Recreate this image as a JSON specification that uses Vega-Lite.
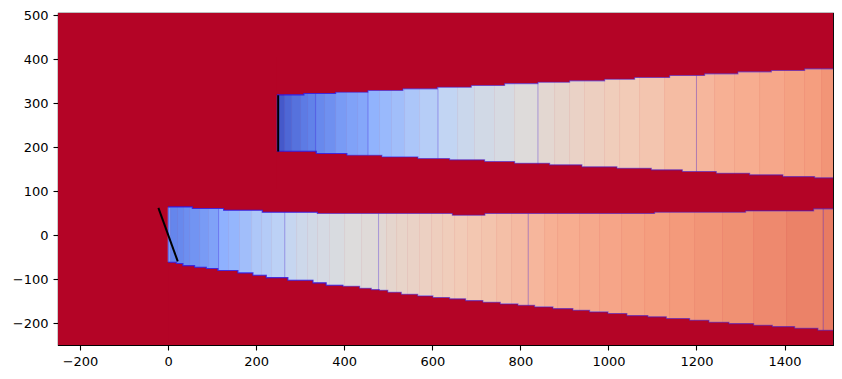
{"$schema":"https://vega.github.io/schema/vega-lite/v6.json","width":775,"height":332,"autosize":{"type":"none"},"padding":{"left":58,"top":13,"right":9,"bottom":34},"background":"white","config":{"view":{"stroke":"#000","strokeWidth":1.1},"axis":{"labelFont":"DejaVu Sans","labelFontSize":13,"labelColor":"#000","tickColor":"#000","domainColor":"#000","tickSize":5,"tickWidth":1.1,"domainWidth":1.1,"grid":false,"title":null,"labelPadding":5}},
"datasets":{
"field":[{"x":-250,"x2":1510,"lo":-250,"hi":505,"t":1}],
"bands":[
{"x":0,"x2":5.7,"lo":-61,"hi":63,"t":0.2},{"x":5.7,"x2":21.6,"lo":-235,"hi":70,"t":0.13},{"x":21.6,"x2":35.2,"lo":-235,"hi":70,"t":0.14},{"x":35.2,"x2":48.8,"lo":-235,"hi":70,"t":0.155},{"x":48.8,"x2":71.5,"lo":-235,"hi":70,"t":0.17},{"x":71.5,"x2":92,"lo":-235,"hi":70,"t":0.19},{"x":92,"x2":114.7,"lo":-235,"hi":70,"t":0.21},{"x":114.7,"x2":137.4,"lo":-235,"hi":70,"t":0.255},{"x":137.4,"x2":162.4,"lo":-235,"hi":70,"t":0.27},{"x":162.4,"x2":189.6,"lo":-235,"hi":70,"t":0.3},{"x":189.6,"x2":212.4,"lo":-235,"hi":70,"t":0.33},{"x":212.4,"x2":235.1,"lo":-235,"hi":70,"t":0.345},{"x":235.1,"x2":263.5,"lo":-235,"hi":70,"t":0.365},{"x":263.5,"x2":291.8,"lo":-235,"hi":70,"t":0.4},{"x":291.8,"x2":316.8,"lo":-235,"hi":70,"t":0.43},{"x":316.8,"x2":339.5,"lo":-235,"hi":70,"t":0.45},{"x":339.5,"x2":366.8,"lo":-235,"hi":70,"t":0.465},{"x":366.8,"x2":400.9,"lo":-235,"hi":70,"t":0.48},{"x":400.9,"x2":439.5,"lo":-235,"hi":70,"t":0.5},{"x":439.5,"x2":477,"lo":-235,"hi":70,"t":0.51},{"x":477,"x2":496.3,"lo":-235,"hi":70,"t":0.525},{"x":496.3,"x2":519,"lo":-235,"hi":70,"t":0.54},{"x":519,"x2":544,"lo":-235,"hi":70,"t":0.55},{"x":544,"x2":571.2,"lo":-235,"hi":70,"t":0.56},{"x":571.2,"x2":598.5,"lo":-235,"hi":70,"t":0.57},{"x":598.5,"x2":623.4,"lo":-235,"hi":70,"t":0.58},{"x":623.4,"x2":650.7,"lo":-235,"hi":70,"t":0.59},{"x":650.7,"x2":680.2,"lo":-235,"hi":70,"t":0.6},{"x":680.2,"x2":712,"lo":-235,"hi":70,"t":0.615},{"x":712,"x2":746.1,"lo":-235,"hi":70,"t":0.625},{"x":746.1,"x2":780.2,"lo":-235,"hi":70,"t":0.64},{"x":780.2,"x2":817.2,"lo":-235,"hi":70,"t":0.655},{"x":817.2,"x2":855.1,"lo":-235,"hi":70,"t":0.67},{"x":855.1,"x2":884.6,"lo":-235,"hi":70,"t":0.69},{"x":884.6,"x2":934.6,"lo":-235,"hi":70,"t":0.7},{"x":934.6,"x2":980,"lo":-235,"hi":70,"t":0.71},{"x":980,"x2":1030,"lo":-235,"hi":70,"t":0.72},{"x":1030,"x2":1082.2,"lo":-235,"hi":70,"t":0.73},{"x":1082.2,"x2":1139,"lo":-235,"hi":70,"t":0.74},{"x":1139,"x2":1195.8,"lo":-235,"hi":70,"t":0.75},{"x":1195.8,"x2":1259.4,"lo":-235,"hi":70,"t":0.76},{"x":1259.4,"x2":1329.8,"lo":-235,"hi":70,"t":0.77},{"x":1329.8,"x2":1404.7,"lo":-235,"hi":70,"t":0.785},{"x":1404.7,"x2":1487.2,"lo":-235,"hi":70,"t":0.8},{"x":1487.2,"x2":1510,"lo":-235,"hi":70,"t":0.815},
{"x":247.6,"x2":264.6,"lo":191,"hi":318,"t":0.03},{"x":264.6,"x2":280.5,"lo":110,"hi":400,"t":0.06},{"x":280.5,"x2":300.9,"lo":110,"hi":400,"t":0.085},{"x":300.9,"x2":316.8,"lo":110,"hi":400,"t":0.105},{"x":316.8,"x2":334.3,"lo":110,"hi":400,"t":0.12},{"x":334.3,"x2":355.4,"lo":110,"hi":400,"t":0.14},{"x":355.4,"x2":380.4,"lo":110,"hi":400,"t":0.16},{"x":380.4,"x2":405.4,"lo":110,"hi":400,"t":0.19},{"x":405.4,"x2":430.4,"lo":110,"hi":400,"t":0.21},{"x":430.4,"x2":453.8,"lo":110,"hi":400,"t":0.225},{"x":453.8,"x2":480.4,"lo":110,"hi":400,"t":0.26},{"x":480.4,"x2":507.6,"lo":110,"hi":400,"t":0.28},{"x":507.6,"x2":537.1,"lo":110,"hi":400,"t":0.3},{"x":537.1,"x2":571.2,"lo":110,"hi":400,"t":0.325},{"x":571.2,"x2":612.8,"lo":110,"hi":400,"t":0.35},{"x":612.8,"x2":657.5,"lo":110,"hi":400,"t":0.385},{"x":657.5,"x2":696.1,"lo":110,"hi":400,"t":0.42},{"x":696.1,"x2":741.5,"lo":110,"hi":400,"t":0.45},{"x":741.5,"x2":787,"lo":110,"hi":400,"t":0.47},{"x":787,"x2":839.9,"lo":110,"hi":400,"t":0.505},{"x":839.9,"x2":877.8,"lo":110,"hi":400,"t":0.53},{"x":877.8,"x2":911.9,"lo":110,"hi":400,"t":0.545},{"x":911.9,"x2":946,"lo":110,"hi":400,"t":0.56},{"x":946,"x2":991.4,"lo":110,"hi":400,"t":0.575},{"x":991.4,"x2":1025.4,"lo":110,"hi":400,"t":0.59},{"x":1025.4,"x2":1070.9,"lo":110,"hi":400,"t":0.6},{"x":1070.9,"x2":1127.7,"lo":110,"hi":400,"t":0.62},{"x":1127.7,"x2":1199.7,"lo":110,"hi":400,"t":0.65},{"x":1199.7,"x2":1241.2,"lo":110,"hi":400,"t":0.67},{"x":1241.2,"x2":1286.6,"lo":110,"hi":400,"t":0.69},{"x":1286.6,"x2":1343.4,"lo":110,"hi":400,"t":0.7},{"x":1343.4,"x2":1400.2,"lo":110,"hi":400,"t":0.715},{"x":1400.2,"x2":1445.7,"lo":110,"hi":400,"t":0.73},{"x":1445.7,"x2":1484.3,"lo":110,"hi":400,"t":0.74},{"x":1484.3,"x2":1510,"lo":110,"hi":400,"t":0.76}],
"edges":[
{"edge":"lt","lim":74,"x":0,"y":64.1},{"edge":"lt","lim":74,"x":55,"y":60.3},{"edge":"lt","lim":74,"x":126,"y":56.4},{"edge":"lt","lim":74,"x":214,"y":51.9},{"edge":"lt","lim":74,"x":339,"y":48.9},{"edge":"lt","lim":74,"x":645.5,"y":45},{"edge":"lt","lim":74,"x":719.5,"y":48.9},{"edge":"lt","lim":74,"x":1104.9,"y":51.9},{"edge":"lt","lim":74,"x":1311.6,"y":55},{"edge":"lt","lim":74,"x":1466,"y":59.6},{"edge":"lt","lim":74,"x":1510,"y":59.6},
{"edge":"lb","lim":-240,"x":0,"y":-61.9},{"edge":"lb","lim":-240,"x":18.6,"y":-64.8},{"edge":"lb","lim":-240,"x":33.6,"y":-69.4},{"edge":"lb","lim":-240,"x":60.2,"y":-73.2},{"edge":"lb","lim":-240,"x":86.8,"y":-76.2},{"edge":"lb","lim":-240,"x":113,"y":-80.7},{"edge":"lb","lim":-240,"x":158.5,"y":-86},{"edge":"lb","lim":-240,"x":192.6,"y":-91.4},{"edge":"lb","lim":-240,"x":223,"y":-96.7},{"edge":"lb","lim":-240,"x":272,"y":-102.8},{"edge":"lb","lim":-240,"x":329,"y":-108.7},{"edge":"lb","lim":-240,"x":359,"y":-114.2},{"edge":"lb","lim":-240,"x":397,"y":-116.4},{"edge":"lb","lim":-240,"x":435,"y":-121},{"edge":"lb","lim":-240,"x":461.5,"y":-124},{"edge":"lb","lim":-240,"x":480,"y":-125.5},{"edge":"lb","lim":-240,"x":499,"y":-130},{"edge":"lb","lim":-240,"x":529.6,"y":-134.6},{"edge":"lb","lim":-240,"x":567,"y":-138.3},{"edge":"lb","lim":-240,"x":601.4,"y":-142.1},{"edge":"lb","lim":-240,"x":639.3,"y":-145.1},{"edge":"lb","lim":-240,"x":675.7,"y":-149},{"edge":"lb","lim":-240,"x":715,"y":-152.8},{"edge":"lb","lim":-240,"x":754.5,"y":-156.5},{"edge":"lb","lim":-240,"x":794.5,"y":-159.7},{"edge":"lb","lim":-240,"x":832.4,"y":-163.3},{"edge":"lb","lim":-240,"x":874,"y":-167.2},{"edge":"lb","lim":-240,"x":919.4,"y":-171},{"edge":"lb","lim":-240,"x":957.3,"y":-174.7},{"edge":"lb","lim":-240,"x":998.9,"y":-178.5},{"edge":"lb","lim":-240,"x":1042,"y":-183.1},{"edge":"lb","lim":-240,"x":1089.7,"y":-186},{"edge":"lb","lim":-240,"x":1131.5,"y":-189.9},{"edge":"lb","lim":-240,"x":1184.4,"y":-193.8},{"edge":"lb","lim":-240,"x":1228.3,"y":-198.3},{"edge":"lb","lim":-240,"x":1273.7,"y":-201.3},{"edge":"lb","lim":-240,"x":1329.8,"y":-205.1},{"edge":"lb","lim":-240,"x":1372.2,"y":-208.1},{"edge":"lb","lim":-240,"x":1422.9,"y":-212},{"edge":"lb","lim":-240,"x":1475.8,"y":-216.5},{"edge":"lb","lim":-240,"x":1510,"y":-216.5},
{"edge":"ut","lim":405,"x":247.1,"y":318.9},{"edge":"ut","lim":405,"x":308.4,"y":321.8},{"edge":"ut","lim":405,"x":380.4,"y":324.8},{"edge":"ut","lim":405,"x":453.8,"y":328.6},{"edge":"ut","lim":405,"x":533.3,"y":332.5},{"edge":"ut","lim":405,"x":611.4,"y":336.1},{"edge":"ut","lim":405,"x":688.6,"y":340},{"edge":"ut","lim":405,"x":764.3,"y":344.5},{"edge":"ut","lim":405,"x":839.9,"y":347.5},{"edge":"ut","lim":405,"x":911.9,"y":350.7},{"edge":"ut","lim":405,"x":991.4,"y":354.3},{"edge":"ut","lim":405,"x":1059.5,"y":358.2},{"edge":"ut","lim":405,"x":1139,"y":362.8},{"edge":"ut","lim":405,"x":1218.5,"y":366.6},{"edge":"ut","lim":405,"x":1294.1,"y":371.2},{"edge":"ut","lim":405,"x":1370,"y":374.1},{"edge":"ut","lim":405,"x":1445.7,"y":378},{"edge":"ut","lim":405,"x":1510,"y":378},
{"edge":"ub","lim":105,"x":247.1,"y":190.6},{"edge":"ub","lim":105,"x":336.6,"y":185.4},{"edge":"ub","lim":105,"x":406,"y":181.5},{"edge":"ub","lim":105,"x":485.6,"y":177.8},{"edge":"ub","lim":105,"x":567.3,"y":174},{"edge":"ub","lim":105,"x":639.3,"y":171},{"edge":"ub","lim":105,"x":718.8,"y":167.2},{"edge":"ub","lim":105,"x":787,"y":163.3},{"edge":"ub","lim":105,"x":866.5,"y":159.7},{"edge":"ub","lim":105,"x":939.8,"y":155.1},{"edge":"ub","lim":105,"x":1019.3,"y":151.9},{"edge":"ub","lim":105,"x":1097.4,"y":148.3},{"edge":"ub","lim":105,"x":1167.8,"y":144.4},{"edge":"ub","lim":105,"x":1245,"y":140.5},{"edge":"ub","lim":105,"x":1320.7,"y":136.9},{"edge":"ub","lim":105,"x":1396.3,"y":133},{"edge":"ub","lim":105,"x":1468.3,"y":130.1},{"edge":"ub","lim":105,"x":1510,"y":130.1}],
"contours":[
{"x":1,"lo":-62,"hi":64},{"x":114.7,"lo":-80.7,"hi":60},{"x":265,"lo":-96.7,"hi":52},{"x":478,"lo":-125,"hi":49},{"x":818,"lo":-160,"hi":49},{"x":1488,"lo":-216,"hi":60},
{"x":248,"lo":190.6,"hi":319},{"x":335,"lo":186,"hi":322},{"x":454,"lo":181.5,"hi":328},{"x":613,"lo":174,"hi":336},{"x":840,"lo":160,"hi":347},{"x":1200,"lo":144,"hi":363}],
"walls":[
{"wall":"upper","x":250,"y":318},{"wall":"upper","x":250,"y":190},
{"wall":"lower","x":-22,"y":62},{"wall":"lower","x":22,"y":-60}]
},
"layer":[
{"data":{"name":"field"},"mark":{"type":"rect","clip":true},"encoding":{"x":{"field":"x","type":"quantitative","scale":{"domain":[-250,1510],"nice":false,"zero":false},"axis":{"values":[-200,0,200,400,600,800,1000,1200,1400],"format":"d"}},"x2":{"field":"x2"},"y":{"field":"lo","type":"quantitative","scale":{"domain":[-250,505],"nice":false,"zero":false},"axis":{"values":[-200,-100,0,100,200,300,400,500],"format":"d"}},"y2":{"field":"hi"},"color":{"field":"t","type":"quantitative","legend":null,"scale":{"interpolate":"rgb","domain":[0,0.125,0.25,0.375,0.5,0.6,0.7,0.75,0.875,1],"range":["#3b4cc0","#6384eb","#8db0fe","#c0d4f5","#dddcdc","#f2cbb7","#f7ad90","#f49a7b","#dd5f4b","#b40426"]}}}},
{"data":{"name":"bands"},"mark":{"type":"rect","clip":true,"strokeWidth":0.6},"encoding":{"x":{"field":"x","type":"quantitative"},"x2":{"field":"x2"},"y":{"field":"lo","type":"quantitative"},"y2":{"field":"hi"},"color":{"field":"t","type":"quantitative"},"stroke":{"field":"t","type":"quantitative","legend":null,"scale":{"interpolate":"rgb","domain":[0,0.125,0.25,0.375,0.5,0.6,0.7,0.75,0.875,1],"range":["#3b4cc0","#6384eb","#8db0fe","#c0d4f5","#dddcdc","#f2cbb7","#f7ad90","#f49a7b","#dd5f4b","#b40426"]}}}},
{"data":{"name":"edges"},"mark":{"type":"area","interpolate":"step-after","color":"#b40426","clip":true},"encoding":{"x":{"field":"x","type":"quantitative"},"y":{"field":"y","type":"quantitative"},"y2":{"field":"lim"},"detail":{"field":"edge"}}},
{"data":{"name":"contours"},"mark":{"type":"rule","color":"#2a1cf0","opacity":0.32,"strokeWidth":1},"encoding":{"x":{"field":"x","type":"quantitative"},"y":{"field":"lo","type":"quantitative"},"y2":{"field":"hi"}}},
{"data":{"name":"edges"},"mark":{"type":"line","interpolate":"step-after","color":"#2a1cf0","opacity":0.5,"strokeWidth":1.1,"clip":true},"encoding":{"x":{"field":"x","type":"quantitative"},"y":{"field":"y","type":"quantitative"},"detail":{"field":"edge"}}},
{"data":{"name":"edges"},"transform":[{"filter":"datum.x < 420"}],"mark":{"type":"line","interpolate":"step-after","color":"#2a1cf0","opacity":0.55,"strokeWidth":1.1,"clip":true},"encoding":{"x":{"field":"x","type":"quantitative"},"y":{"field":"y","type":"quantitative"},"detail":{"field":"edge"}}},
{"data":{"name":"walls"},"mark":{"type":"line","color":"#000","strokeWidth":2},"encoding":{"x":{"field":"x","type":"quantitative"},"y":{"field":"y","type":"quantitative"},"detail":{"field":"wall"}}}
]}
